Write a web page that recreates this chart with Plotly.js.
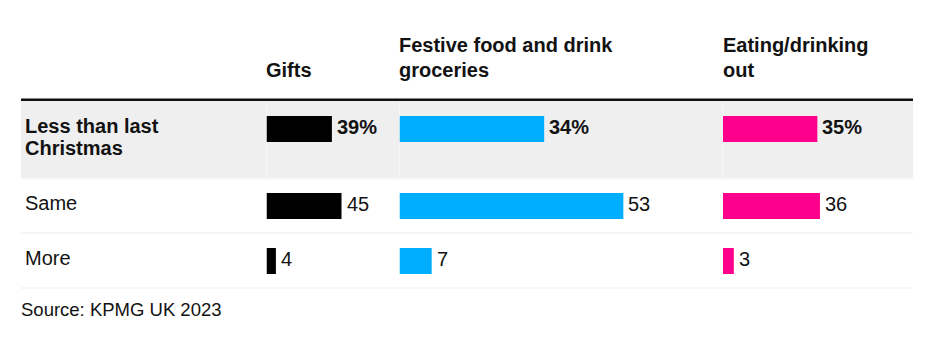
<!DOCTYPE html>
<html>
<head>
<meta charset="utf-8">
<script src="https://cdn.plot.ly/plotly-3.0.1.min.js"></script>
<style>
  html, body { margin: 0; padding: 0; background: #ffffff; }
  #chart { width: 937px; height: 353px; }
</style>
</head>
<body>
<div id="chart"></div>
<script>
// ---------------- DATA ----------------
const rowLabels = ['Less than last Christmas', 'Same', 'More'];
const rowLabelLines = [['Less than last', 'Christmas'], ['Same'], ['More']];
const columnTitles = ['Gifts', 'Festive food and drink groceries', 'Eating/drinking out'];
const columnTitleLines = [['Gifts'], ['Festive food and drink', 'groceries'], ['Eating/drinking', 'out']];
const gifts = [39, 45, 4];
const food = [34, 53, 7];
const eating = [35, 36, 3];
const sourceText = 'Source: KPMG UK 2023';

// ---------------- LAYOUT CONSTANTS ----------------
const W = 937, H = 353;
const L = 21, R = 913;          // table left / right (px)
const T = 101, B = 288;         // table body top / bottom (px)
const rowHeights = [77, 55, 55];
const barTopPad = 15, barH = 26;
const minStub = 3;              // px of bar drawn left of the zero line
const FONT = '"Liberation Sans", Arial, sans-serif';
const TXT = '#121212';
const colors = ['#000000', '#00aeff', '#ff008c'];
const colStartVisible = [266.5, 399.5, 723];
const colEnd = [398, 722, 913];
const pxPerUnit = [1.6, 4.167, 2.61];

const series = [gifts, food, eating];

const px2x = p => (p - L) / (R - L);
const px2y = p => (B - p) / (B - T);

const rowTops = [];
{ let acc = 0; rowHeights.forEach(h => { rowTops.push(acc); acc += h; }); }
const rowCenters = rowTops.map(t => t + barTopPad + barH / 2); // in y units (px below T)

const traces = [];
const layout = {
  width: W, height: H,
  margin: { l: L, r: W - R, t: T, b: H - B, pad: 0 },
  paper_bgcolor: '#ffffff', plot_bgcolor: 'rgba(0,0,0,0)',
  showlegend: false,
  font: { family: FONT, color: TXT },
  barmode: 'overlay',
  yaxis: { range: [B - T, 0], autorange: false, visible: false, fixedrange: true },
  shapes: [], annotations: []
};

series.forEach((vals, c) => {
  const axName = c === 0 ? 'xaxis' : 'xaxis' + (c + 1);
  const axRef = c === 0 ? 'x' : 'x' + (c + 1);
  const d0 = colStartVisible[c];
  const d1 = colEnd[c];
  const stubU = minStub / pxPerUnit[c];
  layout[axName] = {
    domain: [px2x(d0), px2x(d1)],
    range: [-stubU, (d1 - d0) / pxPerUnit[c] - stubU],
    autorange: false, visible: false, fixedrange: true
  };
  traces.push({
    type: 'bar', orientation: 'h',
    x: vals.map(v => v + stubU),
    base: -stubU,
    y: rowCenters,
    width: barH,
    xaxis: axRef, yaxis: 'y',
    marker: { color: colors[c], line: { width: 0 } },
    hoverinfo: 'skip', cliponaxis: false
  });
  vals.forEach((v, i) => {
    layout.annotations.push({
      xref: axRef, yref: 'y', x: v, y: rowCenters[i],
      xanchor: 'left', yanchor: 'middle', xshift: 3, yshift: 2.2,
      text: i === 0 ? '<b>' + v + '%</b>' : String(v),
      showarrow: false,
      font: { family: FONT, size: 20, color: TXT }
    });
  });
  // column titles
  const lines = columnTitleLines[c];
  const lastBase = 77.3, lineGap = 25;
  lines.forEach((ln, k) => {
    const base = lastBase - (lines.length - 1 - k) * lineGap;
    layout.annotations.push({
      xref: 'paper', yref: 'paper', x: px2x(colStartVisible[c] - 2.5),
      y: px2y(base - 0.347 * 20),
      xanchor: 'left', yanchor: 'middle', showarrow: false,
      text: '<b>' + ln + '</b>', font: { family: FONT, size: 20, color: TXT }
    });
  });
});

// row labels
rowLabelLines.forEach((lines, i) => {
  lines.forEach((ln, k) => {
    const base = T + rowTops[i] + 32 + k * 22.3;
    layout.annotations.push({
      xref: 'paper', yref: 'paper', x: px2x(23), y: px2y(base - 0.347 * 20),
      xanchor: 'left', yanchor: 'middle', showarrow: false,
      text: i === 0 ? '<b>' + ln + '</b>' : ln,
      font: { family: FONT, size: 20, color: TXT }
    });
  });
});

// source
layout.annotations.push({
  xref: 'paper', yref: 'paper', x: px2x(19), y: px2y(315.5 - 0.347 * 18.5),
  xanchor: 'left', yanchor: 'middle', showarrow: false,
  text: sourceText, font: { family: FONT, size: 18.5, color: TXT }
});

// shapes: highlight band, header rule, separators
layout.shapes.push({
  type: 'rect', xref: 'paper', yref: 'paper', layer: 'below',
  x0: 0, x1: 1, y0: px2y(T), y1: px2y(T + rowHeights[0] - 0.5),
  fillcolor: '#efefef', line: { width: 0 }
});
colStartVisible.forEach(cx => {
  layout.shapes.push({
    type: 'line', xref: 'paper', yref: 'paper', layer: 'below',
    x0: px2x(cx), x1: px2x(cx), y0: px2y(T), y1: px2y(T + rowHeights[0] - 0.5),
    line: { color: '#f6f6f6', width: 1 }
  });
});
layout.shapes.push({
  type: 'rect', xref: 'paper', yref: 'paper',
  x0: 0, x1: 1, y0: px2y(T), y1: px2y(T - 2.5),
  fillcolor: '#111111', line: { width: 0 }
});
[rowTops[1] + 0.5, rowTops[2], B - T].forEach(t => {
  layout.shapes.push({
    type: 'line', xref: 'paper', yref: 'paper', layer: 'below',
    x0: 0, x1: 1, y0: px2y(T + t), y1: px2y(T + t),
    line: { color: '#f3f3f3', width: 1.5 }
  });
});

Plotly.newPlot('chart', traces, layout, { displayModeBar: false, staticPlot: true });
</script>
</body>
</html>
